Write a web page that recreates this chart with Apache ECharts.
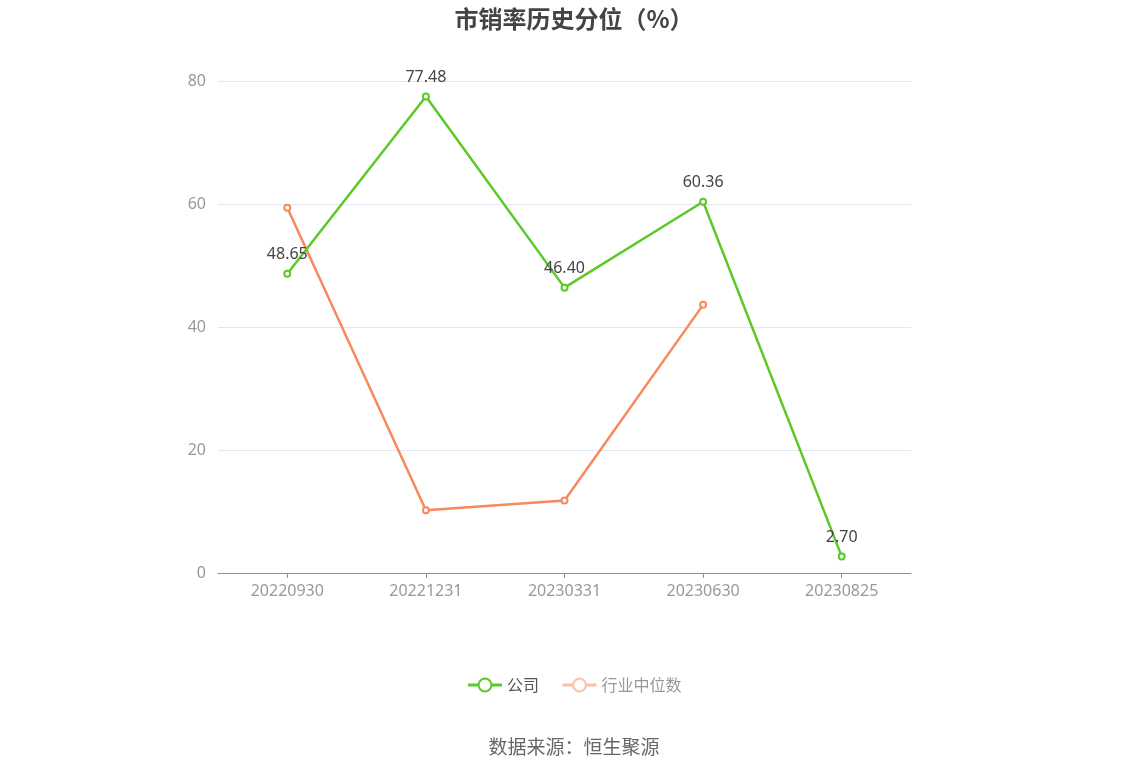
<!DOCTYPE html>
<html><head><meta charset="utf-8">
<script src="https://cdn.jsdelivr.net/npm/echarts@6/dist/echarts.min.js"></script>
<style>html,body{margin:0;padding:0;background:#fff}#c{width:1148px;height:776px}</style>
</head><body><div id="c"></div>
<script>
const categories = ['20220930','20221231','20230331','20230630','20230825'];
const companyValues = [48.65, 77.48, 46.40, 60.36, 2.70];
const industryValues = [59.4, 10.2, 11.8, 43.6, null];
const yTicks = [0, 20, 40, 60, 80];

const chart = echarts.init(document.getElementById('c'));
chart.setOption({
  animation: false,
  title: {
    text: '市销率历史分位（%）', left: 'center', top: 2,
    textStyle: { fontSize: 24, fontWeight: 'bold', color: '#444', fontFamily: 'Noto Sans CJK SC' }
  },
  grid: { left: 218, right: 237, top: 81, bottom: 203 },
  legend: {
    bottom: 78, left: 'center', itemWidth: 34, itemHeight: 16, itemGap: 22,
    textStyle: { fontSize: 16, color: '#555', fontFamily: 'Noto Sans CJK SC' },
    data: [
      { name: '公司', lineStyle: { width: 3 } },
      { name: '行业中位数', itemStyle: { color: '#fff', borderColor: '#fcc0a6' }, lineStyle: { color: '#fcc0a6', width: 3 }, textStyle: { color: '#999' } }
    ]
  },
  graphic: [{
    type: 'text', left: 'center', top: 737,
    style: { text: '数据来源：恒生聚源', fontSize: 19, fill: '#666', fontFamily: 'Noto Sans CJK SC' }
  }],
  xAxis: {
    type: 'category', data: categories, boundaryGap: true,
    axisLine: { lineStyle: { color: '#8c8c99' } },
    axisTick: { show: true, alignWithLabel: true, lineStyle: { color: '#8c8c99' } },
    axisLabel: { color: '#999', fontSize: 16, margin: 10, fontFamily: 'Noto Sans' }
  },
  yAxis: {
    type: 'value', min: yTicks[0], max: yTicks[yTicks.length - 1], interval: 20,
    axisLine: { show: false }, axisTick: { show: false },
    splitLine: { lineStyle: { color: '#e3e8f0' } },
    axisLabel: { color: '#999', fontSize: 16, margin: 12, fontFamily: 'Noto Sans' }
  },
  series: [
    {
      name: '公司', type: 'line', data: companyValues,
      symbol: 'circle', symbolSize: 6,
      itemStyle: { color: '#fff', borderColor: '#5cc928', borderWidth: 2 },
      lineStyle: { color: '#5cc928', width: 2.5 },
      label: { show: true, position: 'top', distance: 7, color: '#444', fontSize: 16, fontFamily: 'Noto Sans',
        formatter: p => p.value.toFixed(2) },
      z: 3
    },
    {
      name: '行业中位数', type: 'line', data: industryValues,
      symbol: 'circle', symbolSize: 6,
      itemStyle: { color: '#fff', borderColor: '#f7895b', borderWidth: 2 },
      lineStyle: { color: '#f7895b', width: 2.5 },
      z: 2
    }
  ]
});
</script></body></html>
